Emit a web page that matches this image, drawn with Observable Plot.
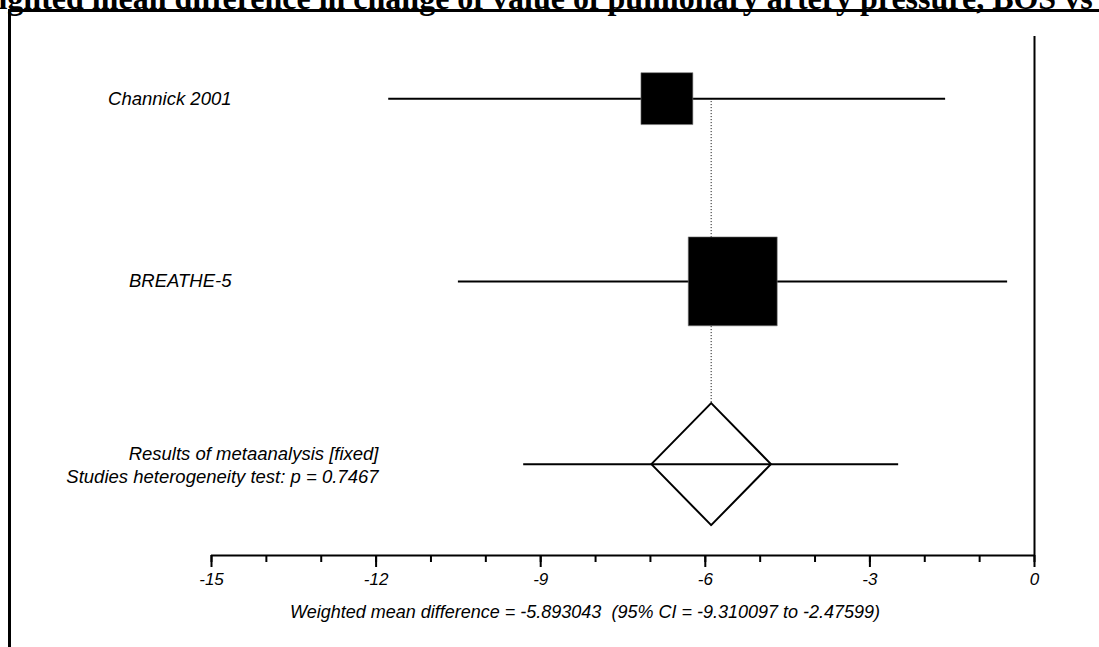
<!DOCTYPE html>
<html><head><meta charset="utf-8">
<script src="https://cdn.jsdelivr.net/npm/d3@7"></script>
<script src="https://cdn.jsdelivr.net/npm/@observablehq/plot@0.6"></script>
<style>
  body { margin: 0; background: #fff; overflow: hidden; width: 1099px; height: 647px; position: relative; }
  #box { position: absolute; left: 8px; top: 9px; width: 2000px; height: 2000px;
         border-top: 3px solid #000; border-left: 3px solid #000; }
  #title { position: absolute; left: -46px; top: -20px; white-space: nowrap; line-height: 32px;
           font: bold 32px "Liberation Serif", "Times New Roman", serif; }
  #chart { position: absolute; left: 0; top: 0; }
  #caption { position: absolute; left: 290px; top: 602px; white-space: pre;
             font: italic 18px "Liberation Sans", Arial, sans-serif; }
</style></head>
<body>
<div id="title">Weighted mean difference in change of value of pulmonary artery pressure, BOS vs placebo</div>
<div id="chart"></div>
<div id="box"></div>
<div id="caption"></div>
<script>
// Individual studies: point estimate, 95% CI, fixed-effect weight (%)
const studies = ["Channick 2001", "BREATHE-5"];
const estimates = [-6.70, -5.50];
const lowerCI = [-11.77, -10.50];
const upperCI = [-1.62, -0.49];
const weights = [25.4, 74.6];

// Pooled (fixed-effect) result
const pooledLines = ["Results of metaanalysis [fixed]", "Studies heterogeneity test: p = 0.7467"];
const pooledEstimate = -5.893043;
const pooledLower = -9.310097;
const pooledUpper = -2.47599;

// Axis ticks
const majorTicks = [-15, -12, -9, -6, -3, 0];
const minorTicks = [-15, -14, -13, -12, -11, -10, -9, -8, -7, -6, -5, -4, -3, -2, -1, 0];

// Row layout: studies on rows 0,1; pooled result on row 2
const rows = studies.map((name, i) => ({
  name, row: i, est: estimates[i], lo: lowerCI[i], hi: upperCI[i], w: weights[i]
}));
const pooledRow = studies.length;
const diamondHalfWidth = 1.09;   // x units
const diamondHalfHeight = 0.334; // row units
const diamond = [
  {x: pooledEstimate - diamondHalfWidth, y: pooledRow},
  {x: pooledEstimate, y: pooledRow - diamondHalfHeight},
  {x: pooledEstimate + diamondHalfWidth, y: pooledRow},
  {x: pooledEstimate, y: pooledRow + diamondHalfHeight},
  {x: pooledEstimate - diamondHalfWidth, y: pooledRow}
];
const yTop = -0.34, yBottom = 2.5;
const fmt = d => `${d}`;

const chart = Plot.plot({
  width: 1099,
  height: 647,
  marginLeft: 211,
  marginRight: 65,
  marginTop: 36,
  marginBottom: 92,
  style: { fontFamily: '"Liberation Sans", Arial, sans-serif', fontStyle: "italic", fontSize: "17px", color: "#000", background: "transparent" },
  x: { domain: [-15, 0] },
  y: { domain: [yBottom, yTop], axis: null },
  r: { type: "sqrt", domain: [0, 100], range: [0, 58.1] },
  marks: [
    // line of no effect
    Plot.ruleX([0], { y1: yTop, y2: yBottom, stroke: "#000", strokeWidth: 2 }),
    // pooled estimate reference
    Plot.ruleX([pooledEstimate], { y1: 0, y2: pooledRow - diamondHalfHeight, stroke: "#000", strokeWidth: 1, strokeDasharray: "1,2" }),
    // confidence intervals
    Plot.ruleY(rows, { y: "row", x1: "lo", x2: "hi", stroke: "#000", strokeWidth: 2 }),
    Plot.ruleY([pooledRow], { x1: pooledLower, x2: pooledUpper, stroke: "#000", strokeWidth: 2 }),
    // study weights as squares
    Plot.dot(rows, { x: "est", y: "row", r: "w", symbol: "square", fill: "#000", stroke: "#777", strokeWidth: 0.6 }),
    // pooled diamond
    Plot.line(diamond, { x: "x", y: "y", stroke: "#000", strokeWidth: 2, fill: "none", curve: "linear" }),
    // study labels
    Plot.text(rows, { y: "row", text: "name", frameAnchor: "left", textAnchor: "end", dx: 20, fontSize: 18.5 }),
    Plot.text([pooledLines.join("\n")], { y: pooledRow, text: d => d, frameAnchor: "left", textAnchor: "end", dx: 167, fontSize: 18.5, lineHeight: 1.25 }),
    // axis
    Plot.ruleY([yBottom], { x1: -15, x2: 0, stroke: "#000", strokeWidth: 2 }),
    Plot.axisX({ ticks: minorTicks, tickSize: 7, tickFormat: () => "", strokeWidth: 2, label: null }),
    Plot.axisX({ ticks: majorTicks, tickSize: 12, tickPadding: 5, tickFormat: fmt, strokeWidth: 2, label: null })
  ]
});
document.getElementById("chart").append(chart);
document.getElementById("caption").textContent =
  `Weighted mean difference = ${pooledEstimate}  (95% CI = ${pooledLower} to ${pooledUpper})`;
</script>
</body></html>
